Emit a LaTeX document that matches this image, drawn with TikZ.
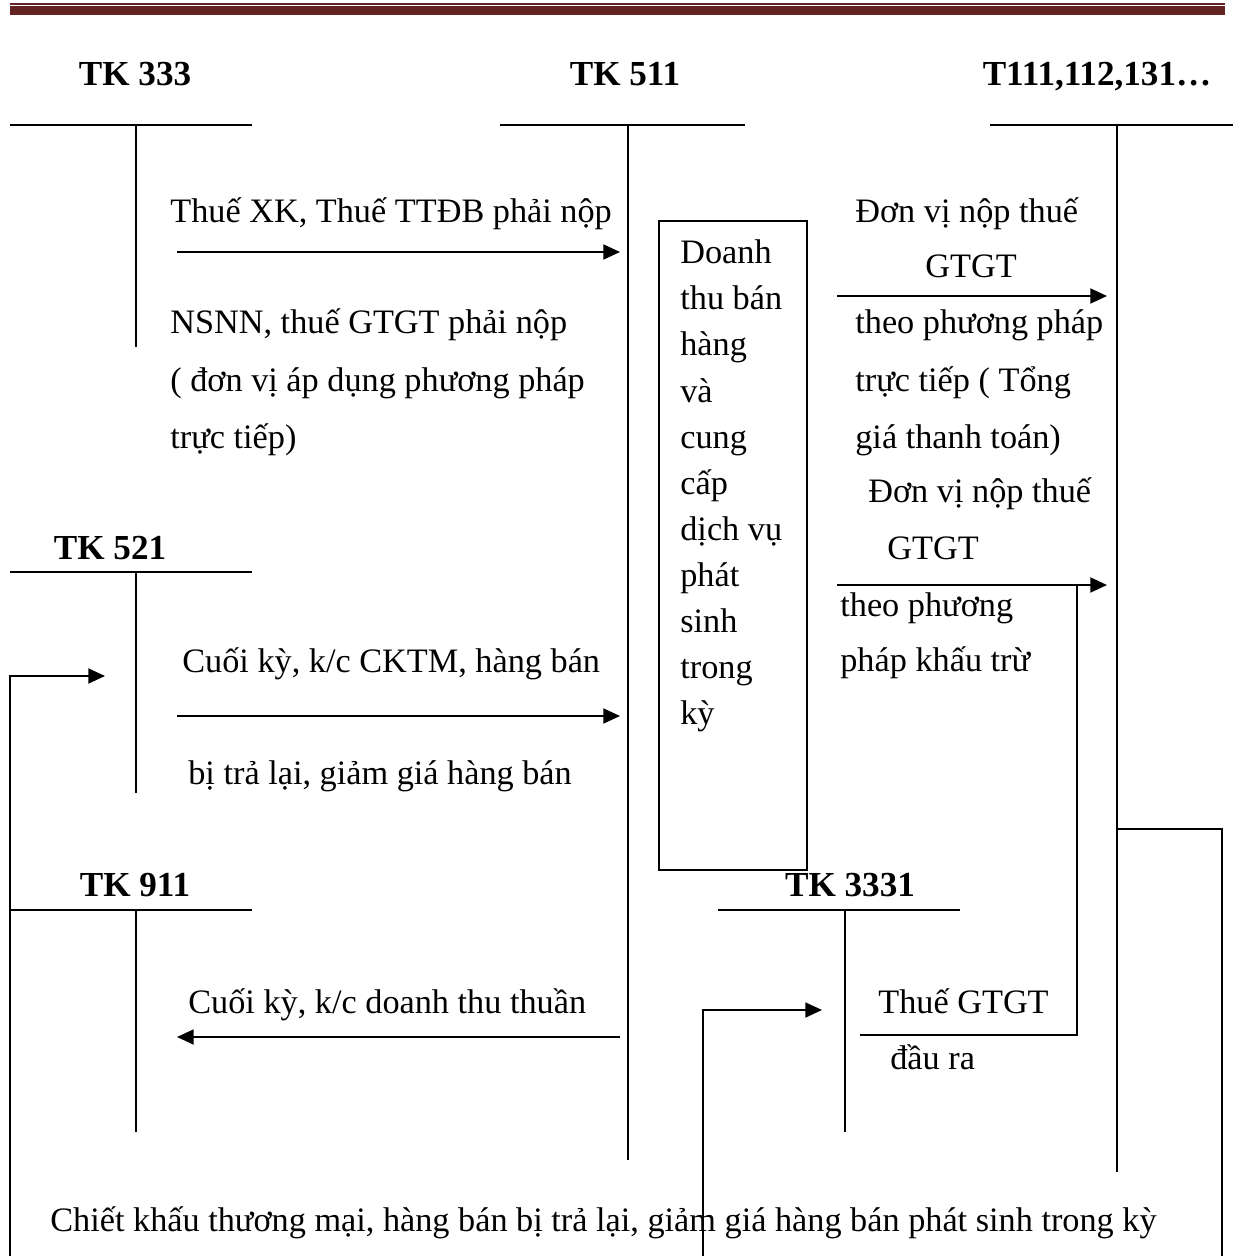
\documentclass[tikz,border=0pt]{standalone}
\usepackage{fontspec}
\setmainfont{Liberation Serif}
\usetikzlibrary{arrows.meta}
\definecolor{rulered}{HTML}{622423}
\begin{document}
\begin{tikzpicture}[x=0.02cm,y=-0.02cm,
  txt/.style={anchor=base west,inner sep=0pt,font=\fontsize{19.5}{24}\selectfont},
  lbl/.style={anchor=base,inner sep=0pt,font=\fontsize{20}{24}\selectfont\bfseries},
  acc/.style={line width=1.2pt},
  ln/.style={line width=1.2pt},
  arr/.style={line width=1.2pt,-{Triangle[length=9.5pt,width=8.5pt]}}]
\useasboundingbox (0,0) rectangle (1233,1256);
% top rule
\fill[rulered] (10,3) rectangle (1225,4.6);
\fill[rulered] (10,5.8) rectangle (1225,15);
% account labels
\node[lbl] (tk333) at (135,86) {TK 333};
\node[lbl] (tk511) at (625,86) {TK 511};
\node[lbl] (tk111) at (1097,86) {T111,112,131…};
\node[lbl] (tk521) at (110,559) {TK 521};
\node[lbl] (tk911) at (135,896) {TK 911};
\node[lbl] (tk3331) at (850,896) {TK 3331};
% T accounts
\draw[acc] (10,125) -- (252,125) (136,125) -- (136,347);
\draw[acc] (500,125) -- (745,125) (628,125) -- (628,1160);
\draw[acc] (990,125) -- (1233,125) (1117,125) -- (1117,1172);
\draw[acc] (10,572) -- (252,572) (136,572) -- (136,793);
\draw[acc] (10,910) -- (252,910) (136,910) -- (136,1132);
\draw[acc] (718,910) -- (960,910) (845,910) -- (845,1132);
% box
\node[draw,line width=1pt,minimum width=148*0.02cm,minimum height=649*0.02cm,inner sep=0pt] (box) at (733,545.5) {};
\foreach \t [count=\i from 0] in {Doanh,thu bán,hàng,và,cung,cấp,dịch vụ,phát,sinh,trong,kỳ}
  \node[txt] at (680,264+46*\i) {\t};
% coordinates
\coordinate (a1s) at (177,252); \coordinate (a1e) at (620,252);
\coordinate (a2s) at (837,296); \coordinate (a2e) at (1107,296);
\coordinate (a3s) at (837,585); \coordinate (a3e) at (1107,585);
\coordinate (a4s) at (177,716); \coordinate (a4e) at (620,716);
\coordinate (a5s) at (10,1256); \coordinate (a5m) at (10,676); \coordinate (a5e) at (105,676);
\coordinate (a6s) at (620,1037); \coordinate (a6e) at (177,1037);
\coordinate (a7s) at (703,1256); \coordinate (a7m) at (703,1010); \coordinate (a7e) at (822,1010);
\coordinate (b1s) at (860,1035); \coordinate (b1m) at (1077,1035); \coordinate (b1e) at (1077,585);
\coordinate (c1s) at (1117,829); \coordinate (c1m) at (1222,829); \coordinate (c1e) at (1222,1256);
% arrows
\draw[arr] (a1s) -- (a1e);
\draw[arr] (a2s) -- (a2e);
\draw[arr] (a3s) -- (a3e);
\draw[arr] (a4s) -- (a4e);
\draw[arr] (a5s) -- (a5m) -- (a5e);
\draw[arr] (a6s) -- (a6e);
\draw[arr] (a7s) -- (a7m) -- (a7e);
\draw[ln] (b1s) -- (b1m) -- (b1e);
\draw[ln] (c1s) -- (c1m) -- (c1e);
% texts
\node[txt] at (170,223) {Thuế XK, Thuế TTĐB phải nộp};
\node[txt] at (170,334) {NSNN, thuế GTGT phải nộp};
\node[txt] at (170,391) {( đơn vị áp dụng phương pháp};
\node[txt] at (170,448) {trực tiếp)};
\node[txt] at (855,223) {Đơn vị nộp thuế};
\node[txt] at (925,278) {GTGT};
\node[txt] at (855,334) {theo phương pháp};
\node[txt] at (855,391) {trực tiếp ( Tổng};
\node[txt] at (855,448) {giá thanh toán)};
\node[txt] at (868,502) {Đơn vị nộp thuế};
\node[txt] at (887,559) {GTGT};
\node[txt] at (840,616) {theo phương};
\node[txt] at (840,671) {pháp khấu trừ};
\node[txt] at (182,672) {Cuối kỳ, k/c CKTM, hàng bán};
\node[txt] at (188,784) {bị trả lại, giảm giá hàng bán};
\node[txt] at (188,1013) {Cuối kỳ, k/c doanh thu thuần};
\node[txt] at (878,1013) {Thuế GTGT};
\node[txt] at (890,1069) {đầu ra};
\node[txt] at (50,1231) {Chiết khấu thương mại, hàng bán bị trả lại, giảm giá hàng bán phát sinh trong kỳ};
\end{tikzpicture}
\end{document}
